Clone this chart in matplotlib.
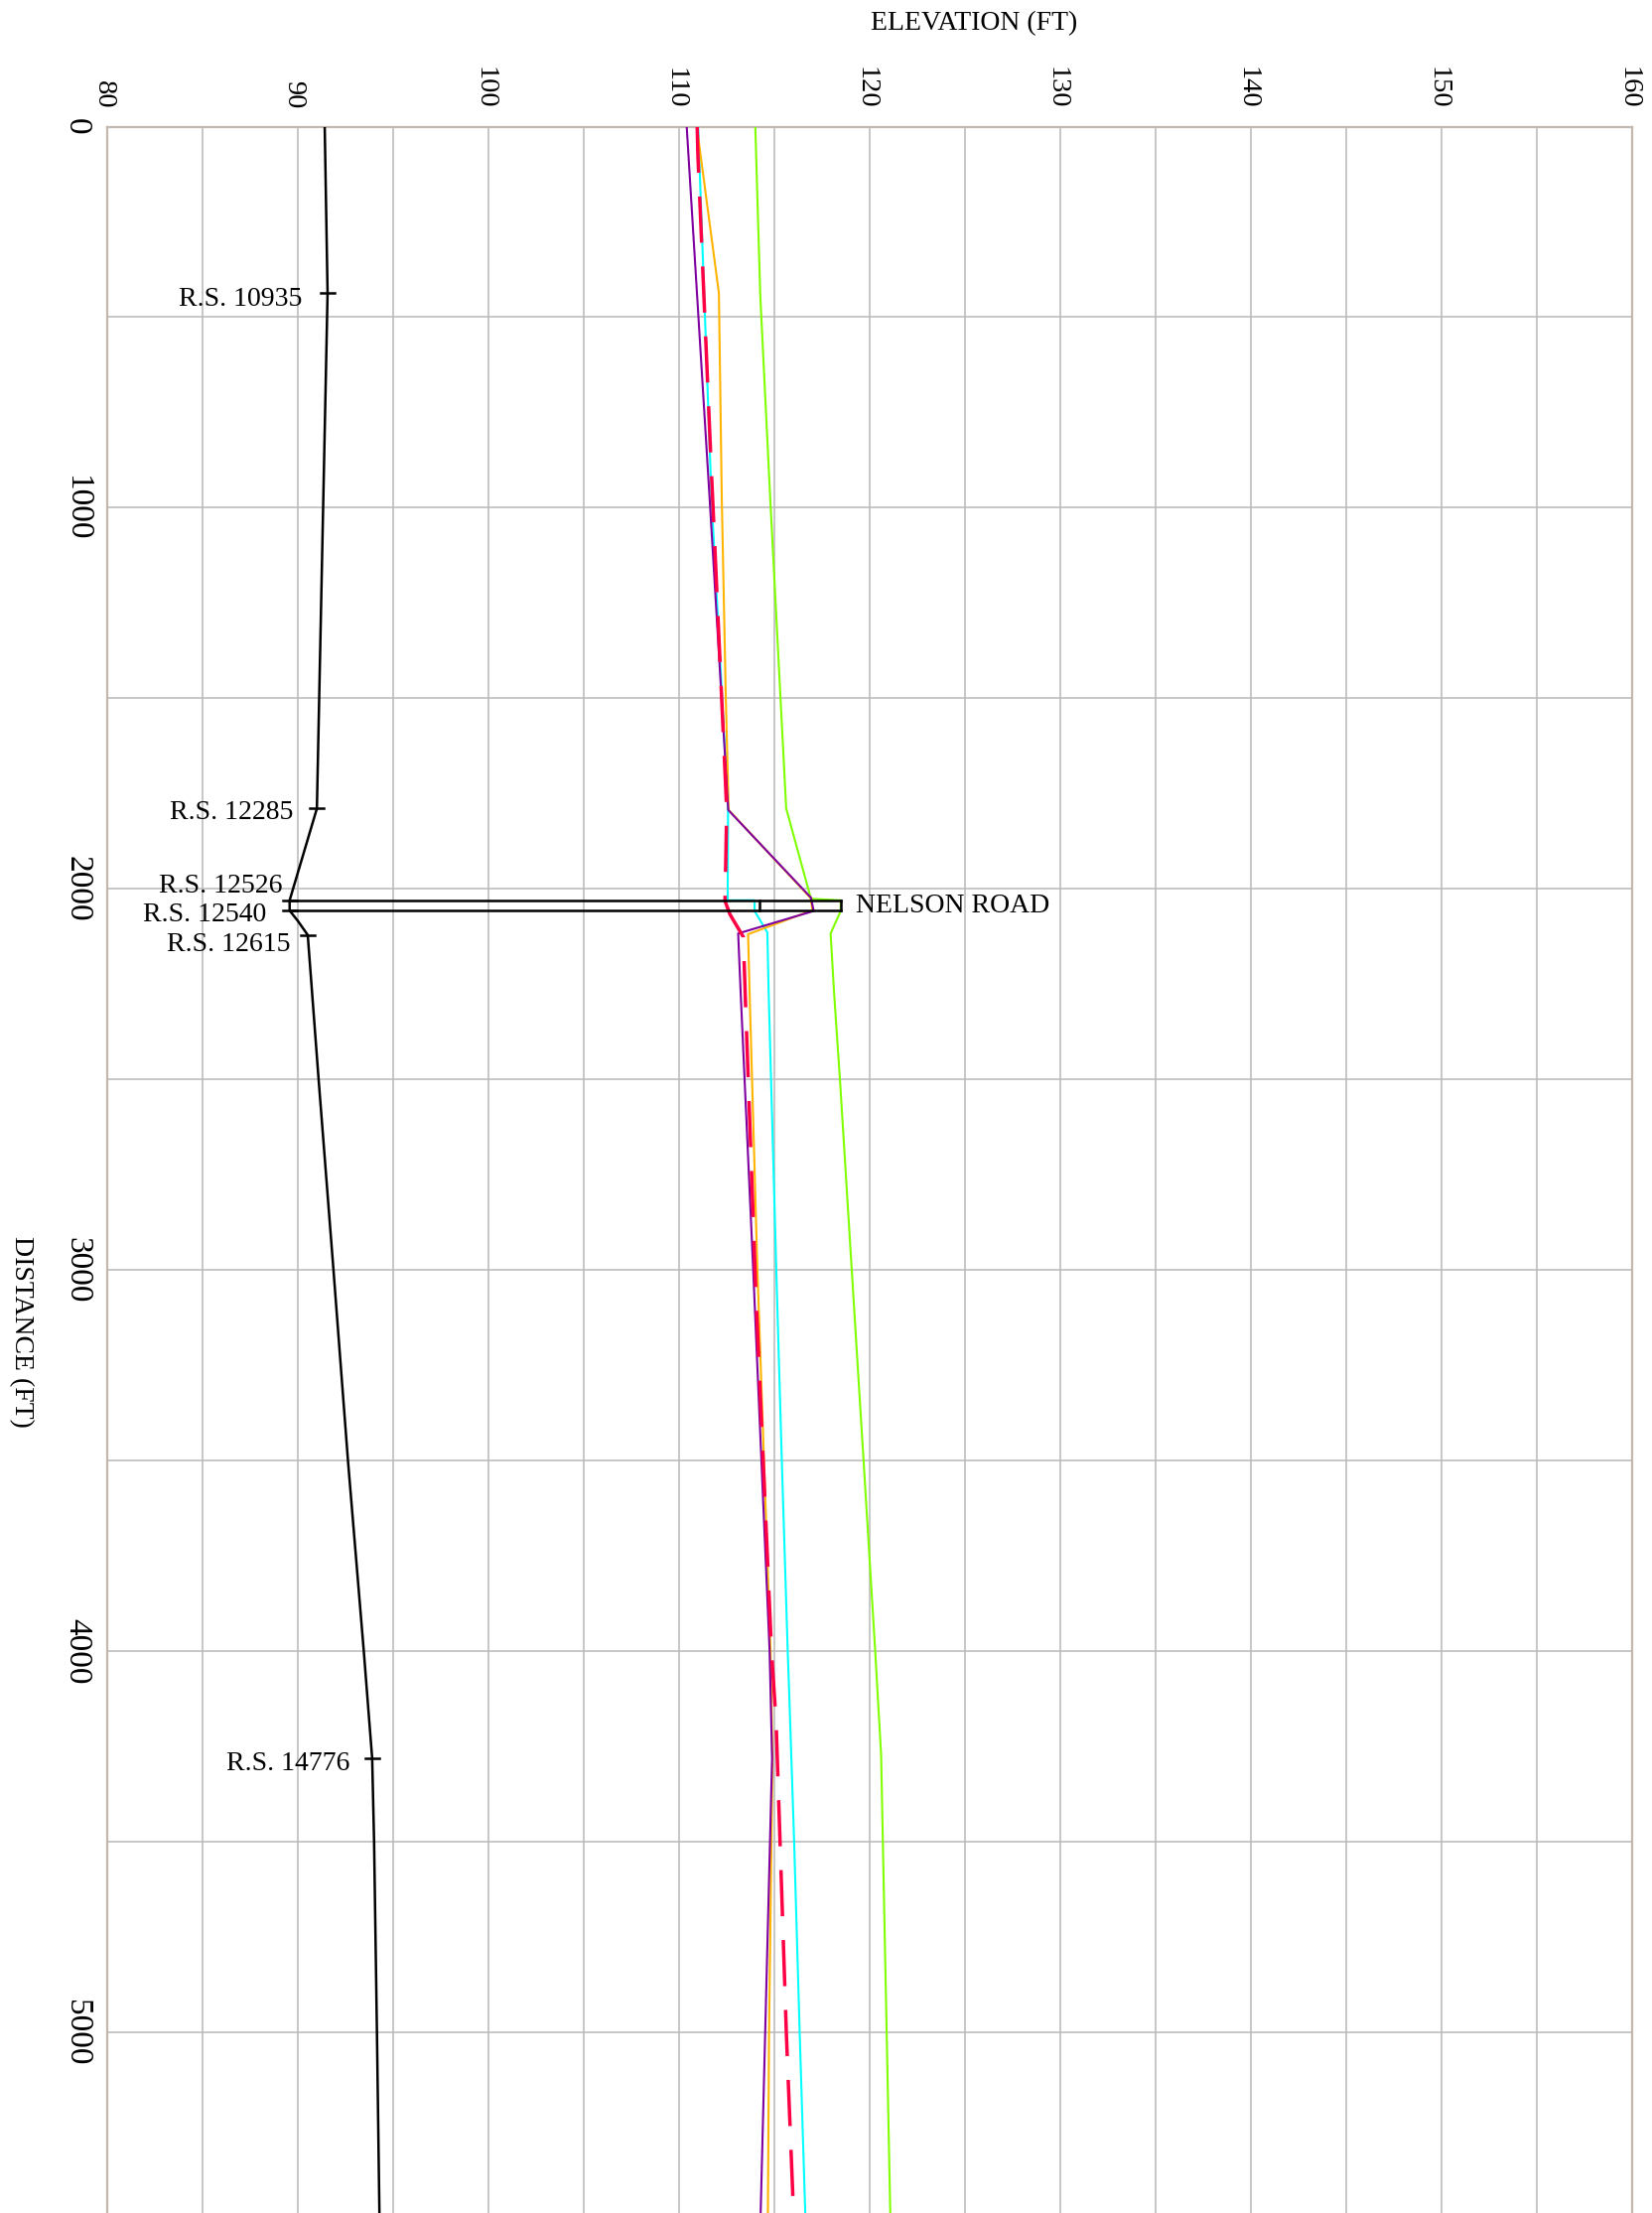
import numpy as np
import matplotlib
matplotlib.use("Agg")
import matplotlib.pyplot as plt
import matplotlib.transforms as mtransforms

plt.rcParams['font.family'] = ['Liberation Serif', 'DejaVu Serif']

# ---------------- data (distance ft, elevation ft) ----------------
bed_dist = [0, 437, 1789, 2030, 2057, 2084, 2121, 2500, 3000, 3500, 4000, 4281, 4500, 5000, 5474]
bed_elev = [91.41, 91.56, 91.0, 89.57, 89.57, 90.0, 90.52, 91.09, 91.87, 92.63, 93.46, 93.9, 94.0, 94.15, 94.28]

green_dist = [0, 443, 973, 1789, 2026, 2030, 2058, 2117, 2271, 2500, 3000, 3500, 4000, 4272, 5474]
green_elev = [114.0, 114.26, 114.78, 115.62, 116.92, 118.48, 118.48, 117.95, 118.13, 118.44, 119.06, 119.68, 120.29, 120.6, 121.08]

orange_dist = [0, 437, 973, 1494, 1793, 2024, 2056, 2119, 2271, 3000, 4000, 4281, 5005, 5474]
orange_elev = [110.93, 112.09, 112.24, 112.45, 112.6, 116.9, 117.0, 113.62, 113.70, 114.11, 114.8, 114.9, 114.72, 114.66]

cyan_dist = [0, 973, 1793, 2030, 2030, 2058, 2114, 2271, 3000, 3500, 4000, 4098, 4505, 5005, 5474]
cyan_elev = [111.0, 111.7, 112.57, 112.55, 113.96, 113.96, 114.63, 114.70, 115.1, 115.39, 115.7, 115.77, 116.04, 116.33, 116.62]

purple_dist = [0, 973, 1793, 2023, 2058, 2117, 2271, 3000, 4000, 4281, 5474]
purple_elev = [110.4, 111.6, 112.58, 116.92, 117.06, 113.10, 113.23, 113.89, 114.75, 114.88, 114.28]

red_dist = [0, 78, 886, 1793, 2032, 2067, 2126, 2306, 3062, 4000, 4185, 5005, 5418, 5474]
red_elev = [110.95, 110.99, 111.68, 112.5, 112.41, 112.67, 113.37, 113.49, 114.03, 114.85, 115.09, 115.63, 115.96, 116.0]

# bridge (NELSON ROAD)
bridge_faces = [2030, 2057]
bridge_low_chord = 114.2
bridge_high_chord = 118.48
bridge_name = "NELSON ROAD"

# river stations
rs_names = ["R.S. 10935", "R.S. 12285", "R.S. 12526", "R.S. 12540", "R.S. 12615", "R.S. 14776"]
rs_dist = [437, 1789, 2030, 2057, 2121, 4281]

x_ticks = list(range(80, 161, 10))
y_ticks = list(range(0, 5001, 1000))

# ---------------- figure ----------------
W, H = 1665, 2229
fig = plt.figure(figsize=(W / 100, H / 100), dpi=100)
top_px = 127.5
ax = fig.add_axes([108 / W, 0, 1536 / W, (H - top_px) / H])
ax.set_xlim(80, 160)
ax.set_ylim(5474, 0)

ax.xaxis.tick_top()
ax.set_xticks(x_ticks)
ax.set_yticks(y_ticks)
ax.set_xticks(np.arange(80, 161, 5), minor=True)
ax.set_yticks(np.arange(0, 5474, 500), minor=True)
ax.tick_params(axis='x', which='major', length=0, pad=13, labelsize=20.5, labelrotation=-90)
ax.tick_params(axis='y', which='major', length=0, pad=11, labelsize=24, labelrotation=-90)
ax.tick_params(which='minor', length=0)
shift = mtransforms.ScaledTranslation(-4 / 100, 0, fig.dpi_scale_trans)
for lab in ax.get_yticklabels():
    lab.set_verticalalignment('center')
    lab.set_horizontalalignment('right')
for lab in ax.get_xticklabels():
    lab.set_horizontalalignment('center')
    lab.set_verticalalignment('bottom')
    lab.set_transform(lab.get_transform() + shift)
ax.grid(True, which='both', color='#BEBEBE', lw=1.2)
ax.set_axisbelow(True)
for s in ['top', 'left', 'right']:
    ax.spines[s].set_color('#C4B8AE')
    ax.spines[s].set_linewidth(1.6)
ax.spines['bottom'].set_visible(False)

# water surface / other profiles
ax.plot(green_elev, green_dist, color='#80FF00', lw=1.5, zorder=3)
ax.plot(cyan_elev, cyan_dist, color='#00FFFF', lw=1.5, zorder=4)
ax.plot(orange_elev, orange_dist, color='#FFB400', lw=1.5, zorder=4)
ax.plot(purple_elev, purple_dist, color='#7F00A0', lw=1.5, zorder=5)
ax.plot(red_elev, red_dist, color='#FF0044', lw=2.5, dashes=(13.4, 6.9), zorder=6)

# ground
ax.plot(bed_elev, bed_dist, color='black', lw=1.8, zorder=7)

# bridge
bed_at_faces = np.interp(bridge_faces, bed_dist, bed_elev)
for d, e in zip(bridge_faces, bed_at_faces):
    ax.plot([e, bridge_high_chord], [d, d], color='black', lw=1.8, zorder=7)
ax.plot([bridge_high_chord, bridge_high_chord], bridge_faces, color='black', lw=1.8, zorder=7)
ax.plot([bridge_low_chord, bridge_low_chord], bridge_faces, color='black', lw=1.8, zorder=7)
ax.annotate(bridge_name, xy=(bridge_high_chord, np.mean(bridge_faces)), xytext=(15, 0),
            textcoords='offset pixels', ha='left', va='center', fontsize=20)

# river station ticks and labels
label_offsets = [(-26, -6), (-24, -4), (-7, 14), (-23, -4), (-17, -10), (-23, -5)]
for name, d, off in zip(rs_names, rs_dist, label_offsets):
    e = np.interp(d, bed_dist, bed_elev)
    ax.plot([e - 0.36, e + 0.36], [d, d], color='black', lw=1.8, zorder=8)
    ax.annotate(name, xy=(e, d), xytext=off, textcoords='offset pixels',
                ha='right', va='center', fontsize=20)

fig.text(981 / W, 1 - 24 / H, "ELEVATION (FT)", ha='center', va='center', fontsize=20)
fig.text(21 / W, 1 - 1341 / H, "DISTANCE (FT)", ha='center', va='center', fontsize=20,
         rotation=-90)

fig.savefig("out.png", dpi=100)
